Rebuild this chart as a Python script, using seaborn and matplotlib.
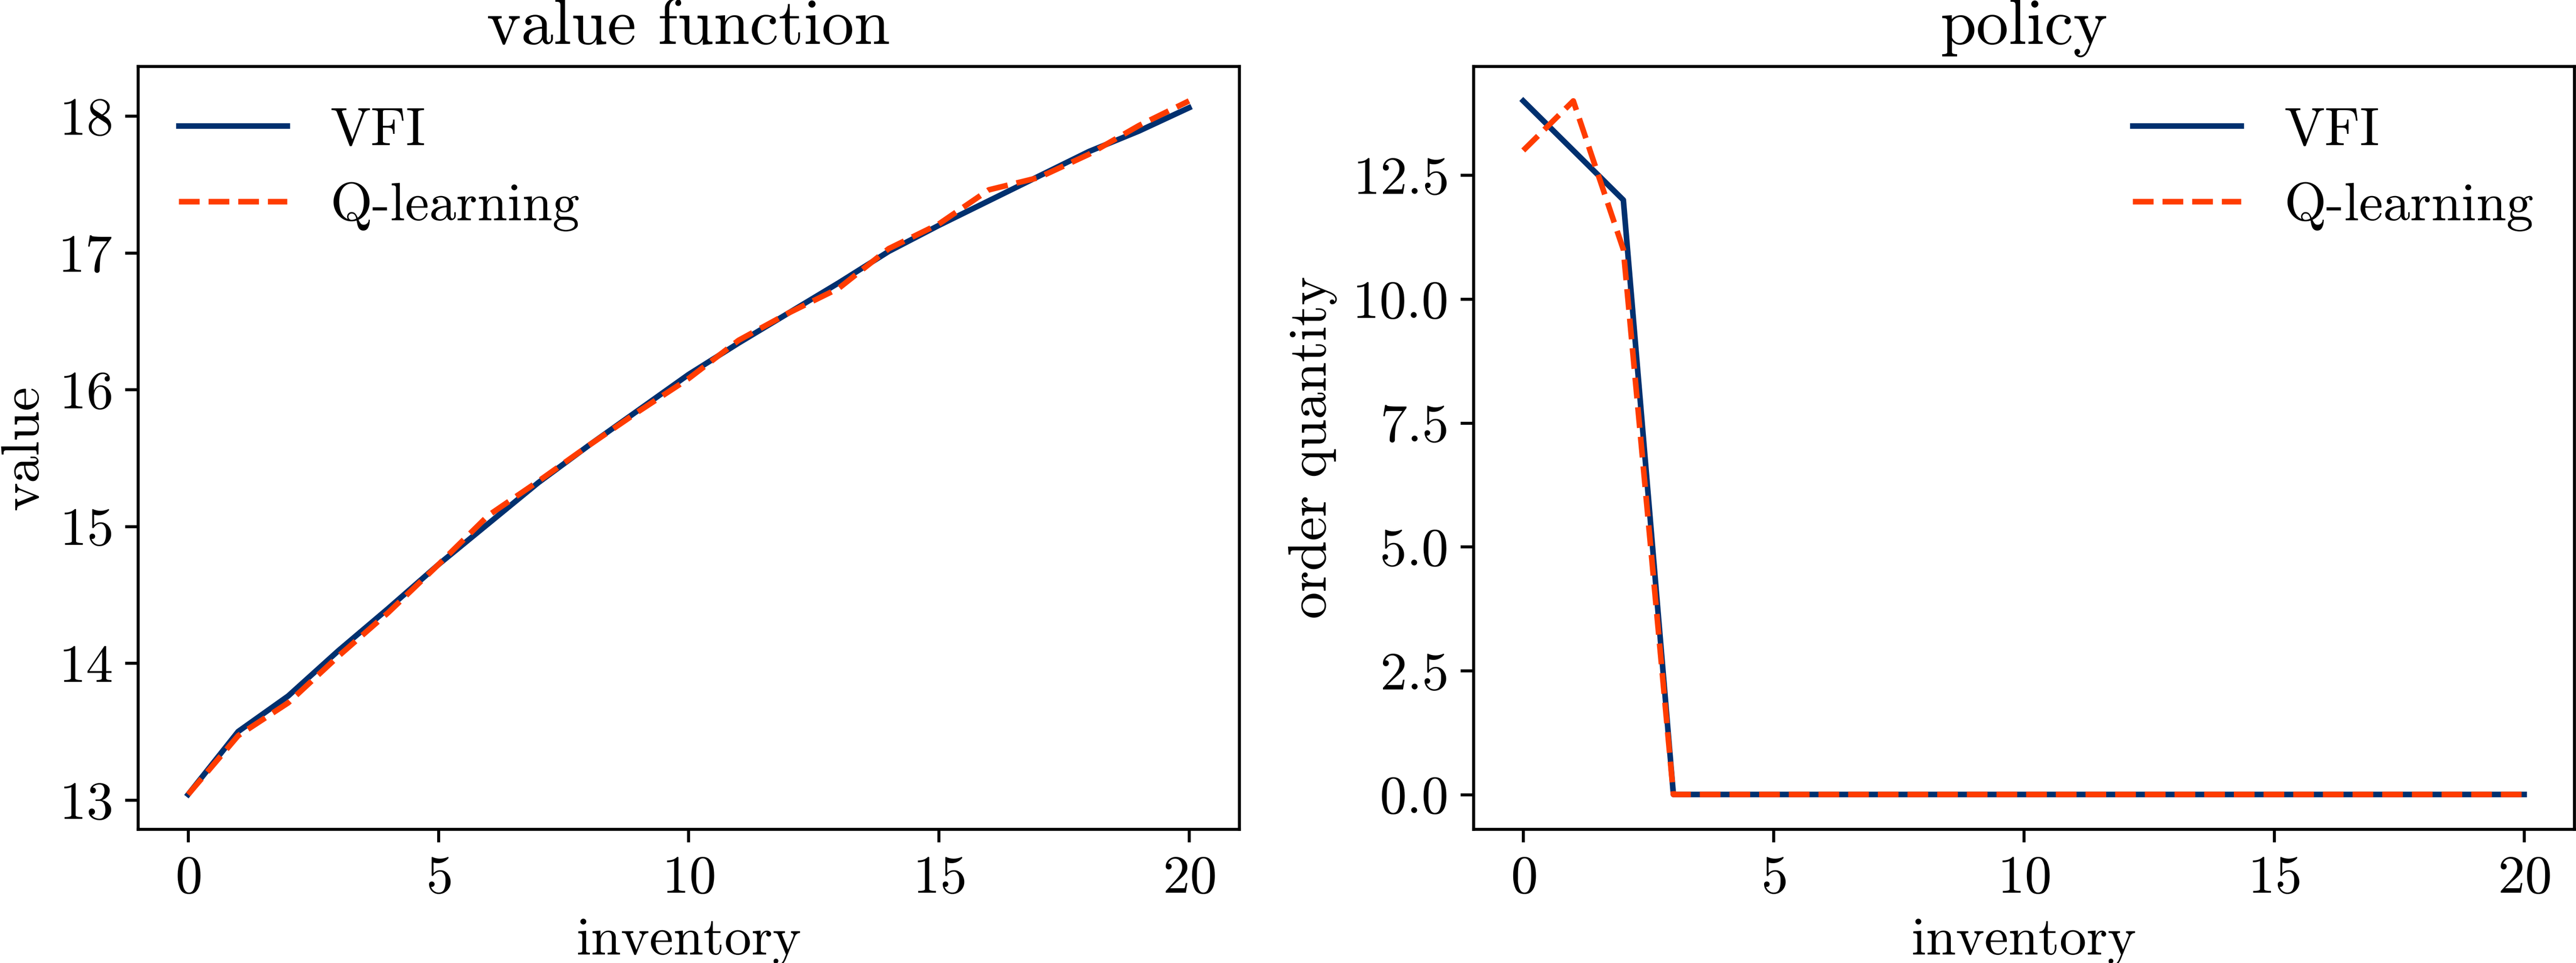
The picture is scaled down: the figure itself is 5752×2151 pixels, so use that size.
"""Value function and policy: VFI vs Q-learning on the inventory grid."""

import matplotlib

matplotlib.use("Agg")
import matplotlib.pyplot as plt
import pandas as pd
import seaborn as sns

# LaTeX-like look with the Computer Modern font shipped with matplotlib
plt.rcParams["font.family"] = ["cmr10", "DejaVu Serif"]
plt.rcParams["mathtext.fontset"] = "cm"
plt.rcParams["axes.formatter.use_mathtext"] = True
plt.rcParams["font.size"] = 14.5
plt.rcParams["axes.titlesize"] = "large"

COR_VFI = "#00306f"
COR_Q = "#ff3c00"

inventory = list(range(21))

vfi_value = [
    13.04, 13.50, 13.76, 14.09, 14.40, 14.72, 15.02, 15.32, 15.59, 15.85,
    16.11, 16.34, 16.56, 16.78, 17.01, 17.20, 17.38, 17.56, 17.74, 17.89,
    18.06,
]
q_value = [
    13.04, 13.47, 13.71, 14.05, 14.37, 14.72, 15.08, 15.33, 15.59, 15.84,
    16.08, 16.36, 16.56, 16.74, 17.03, 17.21, 17.46, 17.55, 17.72, 17.93,
    18.11,
]

vfi_policy = [14, 13, 12] + [0] * 18
q_policy = [13, 14, 11] + [0] * 18


def _painel(ax, y_vfi, y_q, titulo, ylabel, loc, labelpad=4.0):
    df = pd.DataFrame({"inventory": inventory, "VFI": y_vfi, "Q": y_q})
    sns.lineplot(data=df, x="inventory", y="VFI", ax=ax, color=COR_VFI,
                 linewidth=1.5, label="VFI")
    sns.lineplot(data=df, x="inventory", y="Q", ax=ax, color=COR_Q,
                 linewidth=1.5, linestyle="--", label="Q-learning")
    ax.set_title(titulo)
    ax.set_xlabel("inventory")
    ax.set_ylabel(ylabel, labelpad=labelpad)
    ax.set_xticks([0, 5, 10, 15, 20])
    ax.legend(loc=loc, frameon=False, borderaxespad=0.35)


fig, (ax1, ax2) = plt.subplots(1, 2, figsize=(5752 / 600, 2151 / 600))
fig.subplots_adjust(left=0.0536, right=0.9993, bottom=0.139, top=0.9312,
                    wspace=0.2127)

_painel(ax1, vfi_value, q_value, "value function", "value", "upper left",
        labelpad=2.5)
_painel(ax2, vfi_policy, q_policy, "policy", "order quantity", "upper right")

fig.savefig("out.png", dpi=600)
